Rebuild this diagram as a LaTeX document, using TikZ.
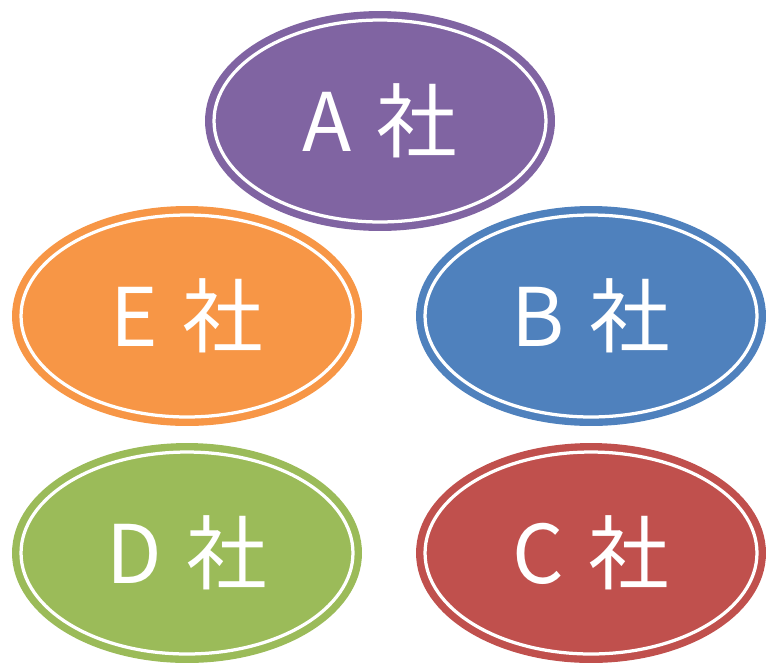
\documentclass[tikz,border=0pt]{standalone}
\usepackage{fontspec}
\usepackage{xcolor}
\usepackage{tikz}
\usetikzlibrary{shapes.geometric}
\setmainfont{Noto Sans CJK JP}
\definecolor{coPurple}{HTML}{8064A2}
\definecolor{coOrange}{HTML}{F79646}
\definecolor{coBlue}{HTML}{4F81BD}
\definecolor{coGreen}{HTML}{9BBB59}
\definecolor{coRed}{HTML}{C0504D}
\newcommand{\coname}[1]{\raisebox{-3pt}{#1\hspace{0.3em}社}}
\tikzset{
  company/.style={ellipse, minimum width=6.64cm, minimum height=4.04cm,
    fill=#1, draw=white, line width=0.065cm,
    preaction={draw=#1, line width=0.36cm},
    text=white, font=\fontsize{46}{50}\selectfont}
}

\begin{document}
\begin{tikzpicture}[x=0.02cm, y=-0.02cm]
\useasboundingbox (0,0) rectangle (766,663);
% ---------- top ----------
\node[company=coPurple] (compA) at (380,121) {\coname{A}};
% ---------- middle row ----------
\node[company=coOrange] (compE) at (187,316) {\coname{E}};
\node[company=coBlue]   (compB) at (591,316) {\coname{B}};
% ---------- bottom row ----------
\node[company=coGreen]  (compD) at (187,553) {\coname{D}};
\node[company=coRed]    (compC) at (591,553) {\coname{C}};
\end{tikzpicture}
\end{document}
